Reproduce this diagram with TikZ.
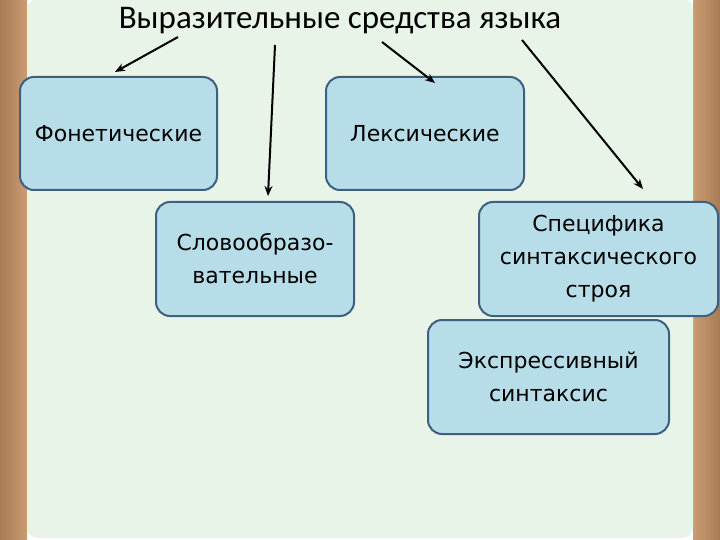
\documentclass[tikz,border=0pt]{standalone}
\usepackage{fontspec}
\setmainfont{DejaVu Sans}
\newfontfamily\titlefont{Carlito}
\usetikzlibrary{arrows.meta}
\definecolor{bdark}{HTML}{A97B55}
\definecolor{blight}{HTML}{C99C72}
\definecolor{panel}{HTML}{E8F4E8}
\definecolor{boxfill}{HTML}{B7DEE8}
\definecolor{boxline}{HTML}{3D5F80}
\tikzset{
  box/.style={draw=boxline, fill=boxfill, line width=2pt, rounded corners=14pt,
    align=center, font=\fontsize{22}{33}\selectfont, inner sep=2pt},
  arr/.style={line width=2pt, -{Stealth[length=10pt,width=8pt]}},
}
\begin{document}
\begin{tikzpicture}[x=1pt,y=-1pt]
\useasboundingbox (0,0) rectangle (720,540);
\shade[left color=bdark, right color=blight] (0,0) rectangle (27,540);
\shade[left color=blight, right color=bdark] (693,0) rectangle (720,540);
\fill[panel, rounded corners=10pt] (27,-1) rectangle (693,538);

\node[font=\titlefont\fontsize{33}{38}\selectfont] (title) at (340,21) {Выразительные средства языка};

\node[box, minimum width=197pt, minimum height=113pt] (fon) at (118.5,133.5) {Фонетические};
\node[box, minimum width=198pt, minimum height=113pt] (lex) at (425,133.5) {Лексические};
\node[box, minimum width=198pt, minimum height=114pt] (slov) at (255,259) {Словообразо-\\вательные};
\node[box, minimum width=239pt, minimum height=114pt] (spec) at (598.5,259) {Специфика\\синтаксического\\строя};
\node[box, minimum width=241pt, minimum height=114pt] (expr) at (548.5,377) {Экспрессивный\\синтаксис};

\coordinate (s1) at (178,37);
\coordinate (e1) at (115,72);
\coordinate (s2) at (275,45);
\coordinate (e2) at (268,196);
\coordinate (s3) at (382,42);
\coordinate (e3) at (435,83);
\coordinate (s4) at (522,40);
\coordinate (e4) at (643,189);
\draw[arr] (s1) -- (e1);
\draw[arr] (s2) -- (e2);
\draw[arr] (s3) -- (e3);
\draw[arr] (s4) -- (e4);
\end{tikzpicture}
\end{document}
